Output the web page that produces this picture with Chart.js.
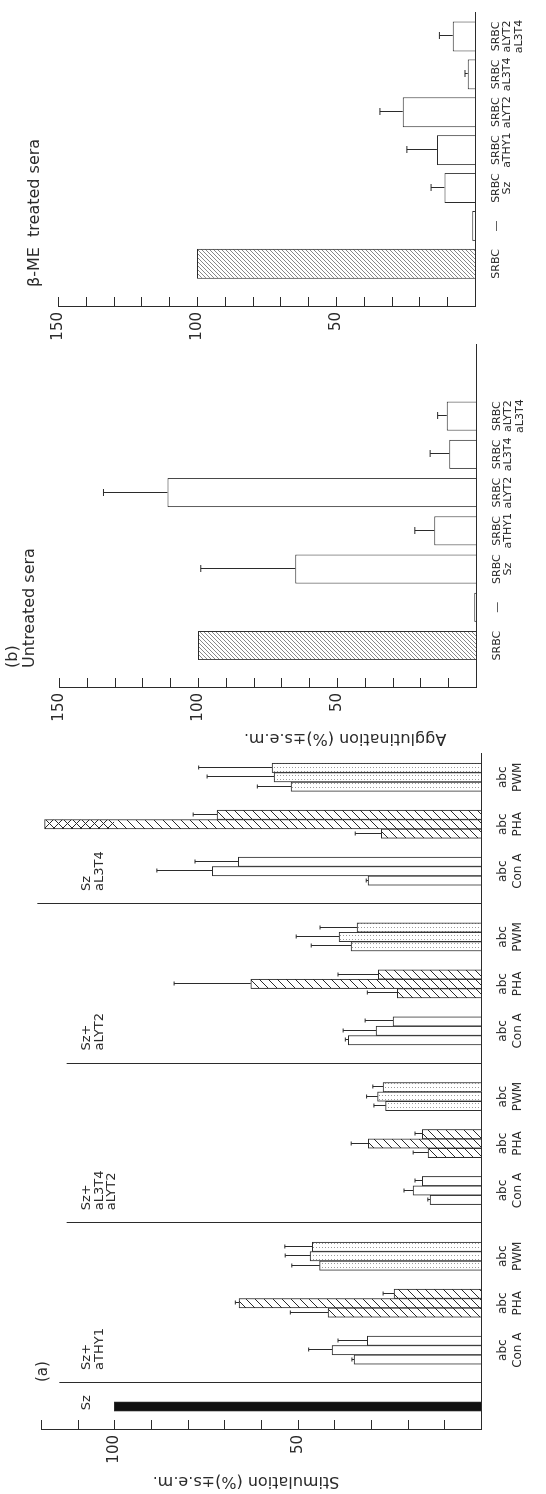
<!DOCTYPE html>
<html>
<head>
<meta charset="utf-8">
<script src="https://cdn.jsdelivr.net/npm/chart.js@4.4.1/dist/chart.umd.min.js"></script>
<style>
  html, body { margin: 0; padding: 0; background: #fff; overflow: hidden; width: 546px; height: 1494px; }
  /* the figure is laid out upright (1494 x 546) and then turned a quarter turn */
  #figure { position: absolute; left: 0; top: 0; width: 1494px; height: 546px;
            transform-origin: 0 0; transform: translateY(1494px) rotate(-90deg); }
  #figure canvas { position: absolute; top: 0; }
</style>
</head>
<body>
<div id="figure">
  <canvas id="chartA" width="746" height="546" style="left:0px"></canvas>
  <canvas id="chartB" width="404" height="546" style="left:746px"></canvas>
  <canvas id="chartC" width="344" height="546" style="left:1150px"></canvas>
</div>
<script>
// ---------- (a) stimulation ----------
const sections = [['Sz+', 'aTHY1'], ['Sz+', 'aL3T4', 'aLYT2'], ['Sz+', 'aLYT2'], ['Sz', 'aL3T4']];
const mitogens = ['Con A', 'PHA', 'PWM'];
const szAlone = 100;

// rows: Con A, PHA, PWM ; columns: cells a, b, c
const thy1Mean     = [[34.6, 40.6, 31.0], [41.7, 66.0, 23.7], [44.0, 46.6, 46.0]];
const thy1Sem      = [[0.6, 6.4, 8.0], [10.3, 1.0, 3.0], [7.6, 6.8, 7.5]];
const l3t4Lyt2Mean = [[13.9, 18.5, 16.0], [14.4, 30.7, 16.0], [26.0, 28.2, 26.7]];
const l3t4Lyt2Sem  = [[0.6, 2.5, 2.0], [4.1, 4.7, 2.0], [3.2, 3.0, 2.8]];
const lyt2Mean     = [[36.2, 28.6, 24.0], [22.8, 62.8, 28.0], [35.4, 38.7, 33.8]];
const lyt2Sem      = [[0.8, 9.0, 7.6], [8.2, 20.9, 11.0], [10.9, 11.7, 10.1]];
const l3t4Mean     = [[30.8, 73.3, 66.2], [27.2, 119.0, 72.0], [51.8, 56.4, 57.0]];
const l3t4Sem      = [[0.5, 15.1, 11.8], [7.1, 0, 6.5], [9.2, 18.3, 20.0]];

// ---------- (b) agglutination ----------
const serumLabels = [['SRBC'], ['\u2014'], ['SRBC', 'Sz'], ['SRBC', 'aTHY1'], ['SRBC', 'aLYT2'], ['SRBC', 'aL3T4'], ['SRBC', 'aLYT2', 'aL3T4']];
const untreatedMean = [100, 0.6, 65, 15, 111, 9.6, 10.5];
const untreatedSem  = [0, 0, 34, 7, 23, 6.9, 3.3];
const meTreatedMean = [100, 1, 11, 13.7, 26, 2.6, 8];
const meTreatedSem  = [0, 0, 4.8, 10.8, 8.2, 1, 4.8];

const ink = '#2b2b2b';
Chart.defaults.font.family = "'DejaVu Sans', sans-serif";
Chart.defaults.color = ink;

function hatch(gap, color, width, back, mirror) {
  const c = document.createElement('canvas');
  c.width = gap; c.height = gap;
  const g = c.getContext('2d');
  if (back) { g.fillStyle = back; g.fillRect(0, 0, gap, gap); }
  g.strokeStyle = color; g.lineWidth = width;
  g.beginPath();
  for (const k of [-gap, 0, gap]) {
    if (mirror) { g.moveTo(k - 1, -1); g.lineTo(k + gap + 1, gap + 1); }
    else { g.moveTo(k - 1, gap + 1); g.lineTo(k + gap + 1, -1); }
  }
  g.stroke();
  return g.createPattern(c, 'repeat');
}
function stipple() {
  const c = document.createElement('canvas');
  c.width = 4; c.height = 3;
  const g = c.getContext('2d');
  g.fillStyle = '#fff'; g.fillRect(0, 0, 4, 3);
  g.fillStyle = '#9a9a9a'; g.fillRect(2, 1, 1, 1);
  return g.createPattern(c, 'repeat');
}
const mitogenFill = ['#ffffff', hatch(9, ink, 1, '#fff', false), stipple()];
const crossFill = hatch(9, ink, 1, null, true);
const srbcFill = hatch(4, '#7a7a7a', 0.9, '#fff', false);

// layout of panel (a): one slot per bar, 17 slots per serum section
const slot = (s, m, c) => 7 + 17 * s + 5 * m + c;
const means = [thy1Mean, l3t4Lyt2Mean, lyt2Mean, l3t4Mean];
const sems = [thy1Sem, l3t4Lyt2Sem, lyt2Sem, l3t4Sem];
const barsA = [{ x: 2, y: szAlone, err: 0, kind: -1 }];
means.forEach((sec, s) => sec.forEach((row, m) => row.forEach((v, c) => {
  barsA.push({ x: slot(s, m, c), y: v, err: sems[s][m][c], kind: m });
})));
const groupTicks = [];
const groupLabel = {};
sections.forEach((_, s) => mitogens.forEach((name, m) => {
  groupTicks.push(slot(s, m, 1));
  groupLabel[slot(s, m, 1)] = ['abc', name];
}));

const figureExtras = {
  id: 'figureExtras',
  afterDatasetsDraw(chart, args, opts) {
    const { ctx, chartArea, scales: { x, y } } = chart;
    const meta = chart.getDatasetMeta(0);
    const raw = chart.data.datasets[0].data;
    ctx.save();
    // cross hatching for the part of a hatched bar that runs past the break
    if (opts.breakAt) {
      meta.data.forEach((bar, i) => {
        if (raw[i].kind !== 1 || raw[i].y <= opts.breakAt) return;
        const yb = y.getPixelForValue(opts.breakAt);
        ctx.save();
        ctx.beginPath();
        ctx.rect(bar.x - bar.width / 2, bar.y, bar.width, yb - bar.y);
        ctx.clip();
        ctx.fillStyle = crossFill;
        ctx.fillRect(bar.x - bar.width / 2, bar.y, bar.width, yb - bar.y);
        ctx.restore();
      });
    }
    ctx.strokeStyle = ink;
    ctx.lineWidth = 1;
    ctx.beginPath();
    // one-sided error bars
    meta.data.forEach((bar, i) => {
      const e = raw[i].err;
      if (!e) return;
      const top = y.getPixelForValue(raw[i].y + e);
      const bx = Math.round(bar.x) + 0.5;
      ctx.moveTo(bx, bar.y); ctx.lineTo(bx, top);
      ctx.moveTo(bx - opts.cap, top); ctx.lineTo(bx + opts.cap, top);
    });
    // tick marks pointing in from the value axis
    y.ticks.forEach(t => {
      if (t.value <= 0) return;
      const py = Math.round(y.getPixelForValue(t.value)) + 0.5;
      ctx.moveTo(chartArea.left, py); ctx.lineTo(chartArea.left + 10, py);
    });
    // section dividers
    (opts.dividers || []).forEach(d => {
      const px = Math.round(x.getPixelForValue(d.x)) + 0.5;
      ctx.moveTo(px, y.getPixelForValue(0)); ctx.lineTo(px, y.getPixelForValue(d.top));
    });
    ctx.stroke();
    // notes and titles
    ctx.fillStyle = ink;
    (opts.notes || []).forEach(n => {
      const px = n.px !== undefined ? n.px : x.getPixelForValue(n.x);
      const py = n.py !== undefined ? n.py : y.getPixelForValue(n.y);
      ctx.save();
      ctx.font = n.font;
      ctx.textBaseline = 'middle';
      ctx.translate(px, py);
      if (n.turn) { ctx.rotate(-Math.PI / 2); ctx.textAlign = 'center'; }
      else ctx.textAlign = 'left';
      n.lines.forEach((t, k) => ctx.fillText(t, 0, k * (n.step || 0)));
      ctx.restore();
    });
    ctx.restore();
  }
};
Chart.register(figureExtras);

const axisBorder = { display: true, color: ink, width: 1 };
const noGrid = { display: false, drawTicks: false };

new Chart(document.getElementById('chartA'), {
  type: 'bar',
  data: {
    datasets: [{
      data: barsA,
      backgroundColor: barsA.map(b => b.kind < 0 ? '#111' : mitogenFill[b.kind]),
      borderColor: ink,
      borderWidth: 1,
      barPercentage: 1,
      categoryPercentage: 1
    }]
  },
  options: {
    responsive: false,
    animation: false,
    layout: { padding: { left: 0, right: 1.6, top: 41, bottom: 0 } },
    plugins: {
      legend: { display: false },
      tooltip: { enabled: false },
      figureExtras: {
        cap: 2,
        breakAt: 100,
        dividers: sections.map((_, s) => ({ x: slot(s, 0, 0) - 2.5, top: [115, 113, 113, 121][s] })),
        notes: [
          { lines: ['(a)'], x: 4.6, y: 119.4, font: '15px DejaVu Sans' },
          { lines: ['Sz'], x: 1.6, y: 107.5, font: '13px DejaVu Sans' },
          ...sections.map((lines, s) => ({ lines, x: slot(s, 0, 0) - 1.1, y: 107.5, step: 12.5, font: '13px DejaVu Sans' })),
          { lines: ['Stimulation (%)\u00b1s.e.m.'], px: 13, py: 246, turn: true, font: '16px DejaVu Sans' }
        ]
      }
    },
    scales: {
      x: {
        type: 'linear', min: -0.5, max: 71.5, offset: false,
        afterFit: s => { s.height = 65; },
        afterBuildTicks: s => { s.ticks = groupTicks.map(v => ({ value: v })); },
        grid: noGrid, border: axisBorder,
        ticks: { autoSkip: false, maxRotation: 0, padding: 14.5, font: { size: 12, lineHeight: 1.25 },
                 callback: v => groupLabel[Math.round(v)] || '' }
      },
      y: {
        min: 0, max: 120,
        afterFit: s => { s.width = 64; },
        grid: noGrid, border: axisBorder,
        ticks: { stepSize: 10, padding: 5, font: { size: 15 },
                 callback: v => (v === 50 || v === 100) ? String(v) : '' }
      }
    }
  }
});

function serumChart(id, mean, sem, opt) {
  const bars = mean.map((v, i) => ({ x: i, y: v, err: sem[i], kind: i === 0 ? 'srbc' : 'open' }));
  return new Chart(document.getElementById(id), {
    type: 'bar',
    data: {
      datasets: [{
        data: bars,
        backgroundColor: bars.map(b => b.kind === 'srbc' ? srbcFill : '#fff'),
        borderColor: ink,
        borderWidth: 1,
        barPercentage: opt.barPct,
        categoryPercentage: 1
      }]
    },
    options: {
      responsive: false,
      animation: false,
      layout: { padding: { left: 0, right: opt.right, top: opt.top, bottom: 0 } },
      plugins: {
        legend: { display: false },
        tooltip: { enabled: false },
        figureExtras: { cap: 3.5, notes: opt.notes }
      },
      scales: {
        x: {
          type: 'linear', min: opt.min, max: opt.max, offset: false,
          afterFit: s => { s.height = opt.bottom; },
          afterBuildTicks: s => { s.ticks = serumLabels.map((_, i) => ({ value: i })); },
          grid: noGrid, border: axisBorder,
          ticks: { autoSkip: false, maxRotation: 0, padding: 15, font: { size: 11, lineHeight: 1.05 },
                   callback: v => serumLabels[Math.round(v)] }
        },
        y: {
          min: 0, max: 150,
          afterFit: s => { s.width = opt.left; },
          grid: noGrid, border: axisBorder,
          ticks: { stepSize: 10, padding: 5, font: { size: 15 },
                   callback: v => (v % 50 === 0 && v > 0) ? String(v) : '' }
        }
      }
    }
  });
}

serumChart('chartB', untreatedMean, untreatedSem, {
  left: 60, right: 1, top: 59, bottom: 70, min: -1.11, max: 7.86, barPct: 0.76,
  notes: [
    { lines: ['(b)', 'Untreated sera'], px: 80, py: 13, step: 17, font: '16px DejaVu Sans' },
    { lines: ['Agglutination (%)\u00b1s.e.m.'], px: 10, py: 345, turn: true, font: '16px DejaVu Sans' }
  ]
});
serumChart('chartC', meTreatedMean, meTreatedSem, {
  left: 37, right: 13, top: 58, bottom: 71, min: -1.14, max: 6.62, barPct: 0.79,
  notes: [
    { lines: ['\u03b2-ME  treated sera'], px: 57, py: 35, font: '16px DejaVu Sans' }
  ]
});
</script>
</body>
</html>
